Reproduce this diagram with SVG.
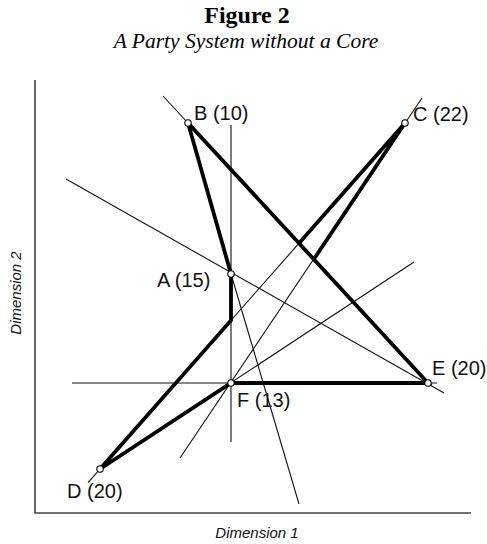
<svg xmlns="http://www.w3.org/2000/svg" width="487" height="544" viewBox="0 0 487 544">
<style>
.thin{stroke:#111;stroke-width:1.1;fill:none}
.thick{stroke:#000;stroke-width:3.8;fill:none;stroke-linejoin:miter}
.axis{stroke:#444;stroke-width:1.6;fill:none}
.pt{fill:#fff;stroke:#000;stroke-width:1.1}
.lbl{font-family:"Liberation Sans",Arial,sans-serif;font-size:20px;fill:#111}
.ax{font-family:"Liberation Sans",Arial,sans-serif;font-style:italic;font-size:15px;fill:#111}
</style>
<rect width="487" height="544" fill="#fff"/>
<g id="title">
<text x="247" y="23" text-anchor="middle" font-family="Liberation Serif,'Times New Roman',serif" font-weight="bold" font-size="24">Figure 2</text>
<text x="246" y="48" text-anchor="middle" font-family="Liberation Serif,'Times New Roman',serif" font-style="italic" font-size="21.5">A Party System without a Core</text>
</g>
<g id="axes">
<path class="axis" d="M35,80 V513 H471"/>
<text class="ax" x="257" y="538" text-anchor="middle">Dimension 1</text>
<text class="ax" transform="translate(21,293) rotate(-90)" text-anchor="middle">Dimension 2</text>
</g>
<g id="connectors">
<line class="thin" x1="231" y1="125" x2="231" y2="442"/>
<line class="thin" x1="72" y1="383" x2="437" y2="383"/>
<line class="thin" x1="163" y1="96" x2="188" y2="123"/>
<line class="thin" x1="422" y1="98" x2="180" y2="458"/>
<line class="thin" x1="88" y1="482.6" x2="405" y2="123"/>
<line class="thin" x1="100" y1="469" x2="414" y2="262"/>
<line class="thin" x1="66" y1="179" x2="444" y2="393"/>
<line class="thin" x1="231" y1="274" x2="299" y2="504"/>
<path class="thick" d="M100,469 L231,320.4 L231,274 L188,123 L428,383 L231,383 Z"/>
<path class="thick" d="M299,243.3 L405,123 L313.8,259.3"/>
</g>
<g id="A"><circle class="pt" cx="231" cy="274" r="3.2"/><text class="lbl" x="157" y="287">A (15)</text></g>
<g id="B"><circle class="pt" cx="188" cy="123" r="3.2"/><text class="lbl" x="194" y="120">B (10)</text></g>
<g id="C"><circle class="pt" cx="405" cy="123" r="3.2"/><text class="lbl" x="413" y="121">C (22)</text></g>
<g id="D"><circle class="pt" cx="100" cy="469" r="3.2"/><text class="lbl" x="67" y="498">D (20)</text></g>
<g id="E"><circle class="pt" cx="428" cy="383" r="3.2"/><text class="lbl" x="432" y="375">E (20)</text></g>
<g id="F"><circle class="pt" cx="231" cy="383" r="3.2"/><text class="lbl" x="237" y="407">F (13)</text></g>
</svg>
